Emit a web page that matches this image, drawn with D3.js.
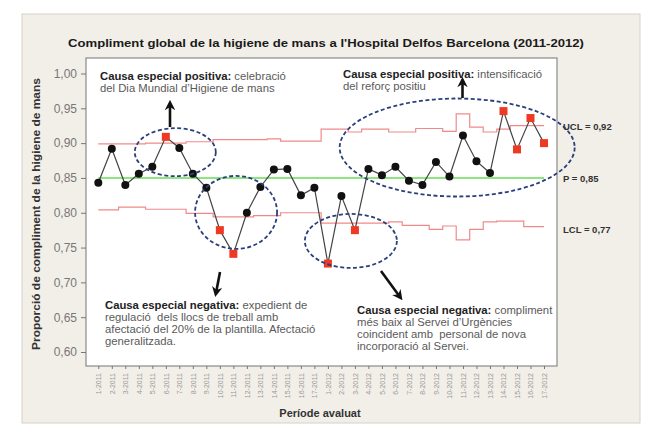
<!DOCTYPE html>
<html><head><meta charset="utf-8">
<script src="https://cdn.jsdelivr.net/npm/d3@7"></script>
<style>body{margin:0;background:#fff}svg{display:block}</style>
</head><body><svg id="c" width="649" height="431"></svg>
<script>
const tickLabels = ["1-2011","2-2011","3-2011","4-2011","5-2011","6-2011","7-2011","8-2011","9-2011","10-2011","11-2011","12-2011","13-2011","14-2011","15-2011","16-2011","17-2011",
  "1-2012","2-2012","3-2012","4-2012","5-2012","6-2012","7-2012","8-2012","9-2012","10-2012","11-2012","12-2012","13-2012","14-2012","15-2012","16-2012","17-2012"];
const proportion = [0.843,0.892,0.840,0.856,0.866,0.909,0.893,0.856,0.836,0.775,0.741,0.800,0.837,0.862,0.863,0.825,0.836,
  0.727,0.824,0.775,0.863,0.854,0.866,0.846,0.840,0.873,0.852,0.911,0.874,0.857,0.946,0.891,0.936,0.900];
const ucl = [0.899,0.899,0.899,0.899,0.900,0.900,0.900,0.902,0.902,0.905,0.905,0.905,0.905,0.906,0.903,0.903,0.903,
  0.920,0.920,0.916,0.920,0.920,0.916,0.916,0.921,0.921,0.917,0.942,0.923,0.916,0.920,0.925,0.925,0.925];
const lcl = [0.804,0.804,0.808,0.808,0.805,0.805,0.805,0.799,0.799,0.794,0.794,0.794,0.796,0.796,0.800,0.800,0.800,
  0.785,0.785,0.785,0.785,0.785,0.787,0.782,0.782,0.776,0.781,0.761,0.776,0.787,0.788,0.788,0.780,0.780];
const outOfControl = [6,10,11,18,20,31,32,33,34]; // period numbers (1-based)
const centerLine = 0.85;
const yTicks = [0.60,0.65,0.70,0.75,0.80,0.85,0.90,0.95,1.00];
const limitLabels = ["UCL = 0,92","P = 0,85","LCL = 0,77"];
const limitValues = [0.92,0.85,0.77];

const svg = d3.select("#c");
const F = "'Liberation Sans', Arial, sans-serif";
const plot = {l:86, t:58, r:557, b:366};

svg.append("rect").attr("x",22).attr("y",14).attr("width",618).attr("height",409)
  .attr("fill","#f2efe9").attr("stroke","#d6d2ca");
svg.append("rect").attr("x",plot.l).attr("y",plot.t).attr("width",plot.r-plot.l).attr("height",plot.b-plot.t)
  .attr("fill","#fff").attr("stroke","#8a8a8a").attr("stroke-width",1.2);
svg.append("defs").append("clipPath").attr("id","pc").append("rect")
  .attr("x",plot.l).attr("y",plot.t).attr("width",plot.r-plot.l-1).attr("height",plot.b-plot.t);

const x = d3.scaleLinear().domain([0, proportion.length-1]).range([98.3, 544]);
const y = d3.scaleLinear().domain([0.6, 1.0]).range([352, 73.5]);

// title
svg.append("text").attr("x",326).attr("y",47).attr("text-anchor","middle")
  .attr("font-family",F).attr("font-weight","bold").attr("font-size",11.5).attr("fill","#1a1a1a")
  .attr("textLength",516).attr("lengthAdjust","spacingAndGlyphs")
  .text("Compliment global de la higiene de mans a l'Hospital Delfos Barcelona (2011-2012)");

// y axis
const ya = svg.append("g").attr("transform",`translate(${plot.l},0)`)
  .call(d3.axisLeft(y).tickValues(yTicks).tickSize(5).tickPadding(4)
    .tickFormat(d=>d.toFixed(2).replace(".",",")));
ya.select(".domain").remove();
ya.selectAll("line").attr("stroke","#777");
ya.selectAll("text").attr("font-family",F).attr("font-size",12).attr("fill","#777");

// x axis
const xa = svg.append("g").attr("transform",`translate(0,${plot.b})`)
  .call(d3.axisBottom(x).tickValues(d3.range(proportion.length)).tickSize(3)
    .tickFormat(i=>tickLabels[i]));
xa.select(".domain").remove();
xa.selectAll("line").attr("stroke","#777");
xa.selectAll("text").attr("font-family",F).attr("font-size",7).attr("fill","#999")
  .attr("transform","rotate(-90)").attr("text-anchor","end")
  .attr("x",-7).attr("y",0).attr("dy","0.32em");

// axis titles
svg.append("text").attr("transform","translate(40,214) rotate(-90)").attr("text-anchor","middle")
  .attr("font-family",F).attr("font-weight","bold").attr("font-size",10).attr("fill","#333")
  .attr("textLength",272).attr("lengthAdjust","spacingAndGlyphs")
  .text("Proporció de compliment de la higiene de mans");
svg.append("text").attr("x",320).attr("y",417).attr("text-anchor","middle")
  .attr("font-family",F).attr("font-weight","bold").attr("font-size",11).attr("fill","#333")
  .text("Període avaluat");

// limits
const stepLine = d3.line().x((d,i)=>x(i)).y(d=>y(d)).curve(d3.curveStep);
svg.append("path").attr("d",stepLine(ucl)).attr("fill","none").attr("stroke","#f08a8a").attr("stroke-width",1.2);
svg.append("path").attr("d",stepLine(lcl)).attr("fill","none").attr("stroke","#f08a8a").attr("stroke-width",1.2);
svg.append("line").attr("x1",x(0)).attr("x2",x(proportion.length-1)).attr("y1",y(centerLine)).attr("y2",y(centerLine))
  .attr("stroke","#66dd55").attr("stroke-width",1.6);

// data line & points
svg.append("path").attr("d",d3.line().x((d,i)=>x(i)).y(d=>y(d))(proportion))
  .attr("fill","none").attr("stroke","#444").attr("stroke-width",1.2);
const pts = proportion.map((v,i)=>({i,v,red:outOfControl.includes(i+1)}));
svg.selectAll("circle.p").data(pts.filter(d=>!d.red)).join("circle")
  .attr("cx",d=>x(d.i)).attr("cy",d=>y(d.v)).attr("r",4).attr("fill","#111");
svg.selectAll("rect.p").data(pts.filter(d=>d.red)).join("rect")
  .attr("x",d=>x(d.i)-4).attr("y",d=>y(d.v)-4).attr("width",8).attr("height",8).attr("fill","#ee3a22");

// limit labels
svg.selectAll("text.lim").data(limitLabels).join("text")
  .attr("x",563).attr("y",(d,i)=>y(limitValues[i])+ (i===0? 1 : i===2? -1 : 4))
  .attr("font-family",F).attr("font-weight","bold").attr("font-size",9.5).attr("fill","#333")
  .text(d=>d);

// ellipses
const ellipses = [
  {cx:5.7, cy:0.887, rx:40.5, ry:24},
  {cx:10.2, cy:0.8005, rx:41, ry:36.5},
  {cx:18.7, cy:0.7595, rx:46, ry:27},
  {cx:26.57, cy:0.8937, rx:117.5, ry:49}
];
svg.selectAll("ellipse").data(ellipses).join("ellipse")
  .attr("cx",d=>x(d.cx)).attr("cy",d=>y(d.cy)).attr("rx",d=>d.rx).attr("ry",d=>d.ry)
  .attr("fill","none").attr("stroke","#2b3f7a").attr("stroke-width",1.8).attr("stroke-dasharray","4,2.5");

// arrows
svg.select("defs").append("marker").attr("id","ah").attr("viewBox","0 0 10 10")
  .attr("refX",6).attr("refY",5).attr("markerWidth",4).attr("markerHeight",4).attr("orient","auto")
  .append("path").attr("d","M0,0 L10,5 L0,10 L3,5 Z").attr("fill","#111");
const arrows = [
  [[170,127],[170,104]],
  [[462.5,98],[462.5,81]],
  [[220,272],[216,293]],
  [[381,271],[400,297]]
];
arrows.forEach(a=>{
  svg.append("line").attr("x1",a[0][0]).attr("y1",a[0][1]).attr("x2",a[1][0]).attr("y2",a[1][1])
    .attr("stroke","#111").attr("stroke-width",2.6).attr("marker-end","url(#ah)");
});

// annotations
const notes = [
  {x:100, y:80, lines:[["Causa especial positiva:"," celebració"],["","del Dia Mundial d’Higiene de mans"]]},
  {x:343, y:78, lines:[["Causa especial positiva:"," intensificació"],["","del reforç positiu"]]},
  {x:105, y:309, lines:[["Causa especial negativa:"," expedient de"],["","regulació  dels llocs de treball amb"],["","afectació del 20% de la plantilla. Afectació"],["","generalitzada."]]},
  {x:357, y:314, lines:[["Causa especial negativa:"," compliment"],["","més baix al Servei d’Urgències"],["","coincident amb  personal de nova"],["","incorporació al Servei."]]}
];
notes.forEach(n=>{
  const t = svg.append("text").attr("font-family",F).attr("font-size",11.3).attr("xml:space","preserve")
    .attr("clip-path","url(#pc)");
  n.lines.forEach((ln,k)=>{
    if(ln[0]) t.append("tspan").attr("x",n.x).attr("y",n.y+k*12).attr("font-weight","bold").attr("fill","#222").text(ln[0]);
    const s = t.append("tspan").attr("fill","#5a5a5a").text(ln[1]);
    if(!ln[0]) s.attr("x",n.x).attr("y",n.y+k*12);
  });
});
</script></body></html>
